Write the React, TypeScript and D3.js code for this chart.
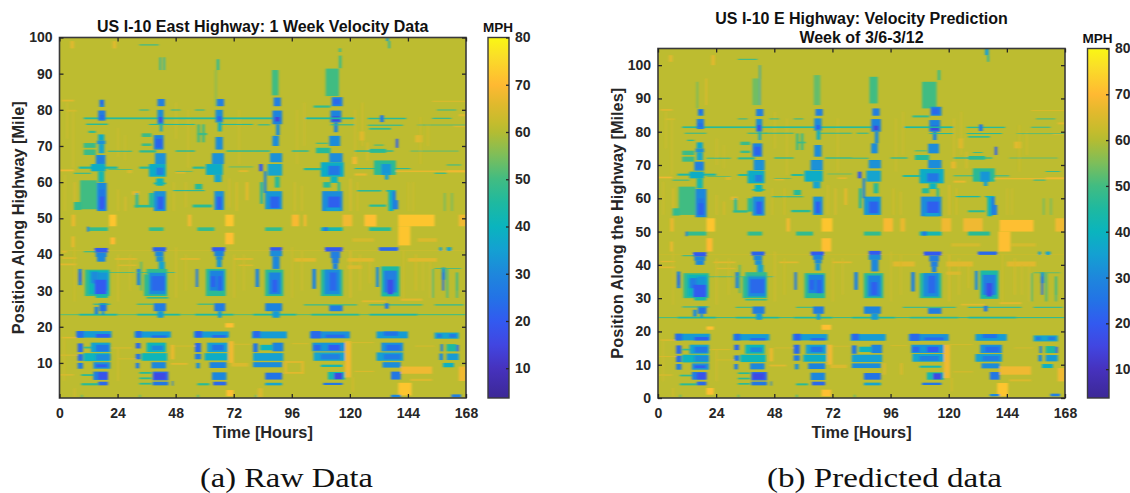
import { useEffect, useRef } from 'react';
import * as d3 from 'd3';

type Patch = [number, number, number, number, number];

// every patch: [hour start, hour end, mile low, mile high, mph]
const hourTicks = [0, 24, 48, 72, 96, 120, 144, 168];
const rawMileTicks = [10, 20, 30, 40, 50, 60, 70, 80, 90, 100];
const predMileTicks = [0, 10, 20, 30, 40, 50, 60, 70, 80, 90, 100];
const barTicks = [10, 20, 30, 40, 50, 60, 70, 80];
const freeFlow = 61;

const mphStops = [3.7, 10, 15, 20, 25, 30, 35, 40, 45, 50, 55, 60, 62, 66, 70, 76, 80];
const mphColors = ['#3c2896', '#4632be', '#4146e1', '#325af0', '#2373e6', '#1e87dc', '#14a0d2', '#0ab4be', '#1eb9a0', '#41bc82', '#7dbe5a', '#b4bc32', '#c5bc2d', '#e1b92d', '#ffb932', '#fade28', '#faf714'];

const rawStreaks: Patch[] = [
  [0, 6, 63, 63.5, 68], [1, 6, 82.3, 82.8, 66], [3, 7, 79.5, 80, 64], [4.5, 6, 97, 99, 66], [22, 23.5, 97, 99, 66],
  [5, 6.5, 47.8, 51, 67], [5, 6.2, 42, 45, 67], [1, 7, 38.8, 39.2, 66], [0, 7, 37, 37.5, 66], [1, 3, 40.5, 41, 66], [0, 168, 41, 41.2, 63],
  [23, 32, 38.5, 39, 66], [24, 32, 36.8, 37.2, 65], [50, 58, 38.5, 39, 66], [72, 80, 38.5, 39, 66], [74, 80, 36.8, 37.2, 65],
  [20.5, 23.5, 47.8, 51, 72], [21, 23, 42.8, 44.7, 70], [53, 54.5, 47.8, 51, 68], [68.5, 72, 47.8, 51, 72], [68.5, 72, 42.8, 46, 71], [68.5, 72, 19.8, 21, 71], [69, 72, 0.8, 2.5, 71],
  [96, 99, 47.8, 51, 69], [101, 102, 47.8, 51, 69], [117, 121, 47.8, 51, 68], [126, 131, 47.8, 51, 71], [140, 155, 47.8, 51, 72], [140, 145, 42.5, 47.8, 72], [121, 130, 43.5, 44.5, 64], [148, 156, 43.5, 44.5, 65],
  [118, 120.5, 6, 16, 68], [140, 145.5, 1, 4.5, 72], [141, 154, 7, 9, 68], [145, 154, 5, 5.6, 65], [93, 94, 7, 10.5, 66], [100, 101, 7, 10.5, 66], [93, 101, 7, 7.5, 66], [93, 101, 10, 10.5, 66], [70, 72, 10, 16, 68], [71, 78, 9, 10, 65], [46, 47.5, 11, 15, 67], [46, 53, 9.5, 10, 66],
  [125, 135, 26.8, 27.3, 66], [141, 150, 27.2, 27.8, 66], [119, 125, 36, 37, 65], [119, 130, 38, 39, 66], [144, 156, 38, 39, 66], [97, 106, 38, 39, 66], [121, 123, 65, 67, 68], [122, 127, 61.8, 62.4, 67], [137, 160, 62.8, 63.2, 67], [160, 168, 62.7, 63.3, 68],
  [124, 126, 71.5, 74, 66], [147, 150, 71, 73, 66], [154, 168, 82.2, 82.5, 65], [165, 168, 78.2, 78.8, 66], [163, 168, 75.2, 75.7, 65], [165, 168, 47.8, 51, 68], [165, 168, 5, 9, 68],
  [28, 30, 62.5, 63.5, 65], [48, 52, 62.4, 62.9, 66], [74, 78, 62.8, 63.3, 66], [77, 78, 55, 60, 67], [30, 33, 56.5, 57.5, 66], [82, 84, 0.5, 3, 65],
];

const rawTexture: Patch[] = [
  [3, 3.4, 72, 82, 64], [5.5, 5.9, 64, 80, 64], [24, 24.4, 67, 75, 64], [27, 27.4, 66, 73, 63], [48, 48.4, 72, 82, 64], [53, 53.4, 64, 80, 64], [74, 74.4, 65, 80, 64],
  [98, 98.4, 65, 80, 64], [101, 101.4, 70, 82, 64], [122, 122.4, 66, 80, 65], [125, 125.4, 70, 82, 65], [127, 127.6, 66, 71, 65], [149, 149.4, 65, 78, 64], [152, 152.5, 70, 76, 64],
  [2, 2.4, 52, 62, 64], [6, 6.5, 53, 60, 66], [24, 24.4, 52, 58, 65], [27, 27.5, 52, 56, 66], [47, 47.4, 52, 60, 64], [52, 52.4, 53, 60, 65], [70, 70.4, 53, 61, 65], [73, 73.5, 52, 60, 66],
  [97, 97.4, 52, 60, 65], [100, 100.4, 52, 59, 65], [120, 120.5, 52, 61, 66], [123, 123.4, 52, 60, 65], [144, 144.4, 52, 60, 64], [146, 146.4, 52, 60, 64], [159, 159.4, 52, 57, 50], [162, 162.4, 52, 57, 50],
  [6, 6.4, 27, 42, 64], [24, 24.4, 27, 40, 65], [29, 29.4, 30, 40, 64], [48, 48.4, 28, 42, 65], [52, 52.4, 30, 40, 64], [72, 72.4, 28, 40, 65], [76, 76.4, 30, 40, 64], [96, 96.4, 28, 42, 64], [100, 100.4, 30, 41, 64],
  [120, 120.5, 28, 41, 66], [124, 124.4, 30, 40, 65], [128, 128.4, 32, 38, 65], [142, 142.4, 28, 41, 64], [147, 147.5, 30, 40, 65], [150, 150.4, 30, 38, 64], [153, 153.4, 28, 38, 64], [154, 154.6, 28, 36, 50], [164, 164.6, 30, 35, 48],
  [1, 7, 16.8, 17.2, 66], [22, 30, 14, 14.3, 65], [24, 32, 11, 11.3, 64], [48, 56, 14.5, 14.8, 64], [72, 79, 15, 15.3, 64], [120, 130, 15.5, 15.8, 64], [147, 155, 14.5, 14.8, 64], [122, 130, 7.5, 7.8, 65], [0, 6, 6.5, 6.9, 65], [0, 8, 12, 12.3, 65], [96, 103, 15.2, 15.5, 64], [1.8, 2.2, 5, 17, 64], [24, 24.4, 5, 14, 65], [121, 121.5, 2, 6, 65], [6, 6.5, 0.4, 3, 65], [9, 9.4, 0.4, 1.2, 45], [33, 33.4, 0.4, 1.2, 45], [57, 57.5, 0.4, 1.2, 45], [81, 81.4, 0.4, 1.2, 45],
];

const rawDay1: Patch[] = [
  [16.5, 18.5, 80.8, 82.8, 29], [17, 18, 81.5, 82.5, 21], [16, 19, 77, 79.8, 27], [16.5, 18.5, 77.5, 78.5, 24], [11, 20, 75.8, 76.2, 47], [12, 15, 73.6, 74.2, 48],
  [16, 18.5, 71.5, 73.2, 38], [15.5, 19, 70.5, 71.5, 32], [16.2, 18.5, 68, 70.5, 36], [15, 19, 65, 67.5, 30], [15.8, 18.2, 65.5, 67, 27], [10, 15, 69.5, 70.8, 49], [10, 15, 67.5, 69, 49], [20, 30, 68.4, 68.7, 47],
  [8, 24, 63.7, 64.3, 44], [13, 19, 63, 65, 38], [16, 18.5, 60, 63, 42], [6, 13, 62.3, 62.6, 47], [8.5, 15.5, 52.5, 60.5, 50], [6, 9, 52.3, 54.5, 48],
  [15.5, 19.5, 52, 59.8, 30], [16.5, 18.8, 53, 58, 26], [16.5, 18.5, 52.5, 56, 20], [12, 20, 46.5, 47.5, 48], [11.4, 12.2, 46.3, 47.7, 27],
  [14.5, 20, 40.5, 41.8, 20], [15, 19.5, 39.3, 40.5, 30], [15.5, 19, 38, 39.3, 30], [10, 15, 40.6, 40.9, 47], [7.8, 9.2, 31.5, 36, 29], [8.3, 8.9, 32.5, 35, 19],
  [10.5, 20.7, 28.5, 35.8, 48], [12, 20.5, 29, 35.5, 41], [13, 16, 32, 35.2, 31], [16, 20, 30, 35, 33], [14.5, 19.5, 29, 33, 20], [15, 20, 28, 29, 44], [20, 31, 34.9, 35.1, 48],
  [16.5, 19.5, 24.3, 26.5, 25], [14.5, 16, 23.5, 25.5, 29], [17.5, 18.5, 23.3, 24.3, 32], [14, 21, 26.1, 26.4, 43],
  [7, 21.5, 17, 18.8, 34], [7, 10, 17, 18.8, 24], [15, 21, 17, 18, 21],
  [7.5, 9.7, 13, 15.4, 23], [7.5, 9.7, 10.6, 12.4, 24], [7.5, 9.7, 8.4, 10, 27], [10, 13, 14, 14.5, 48], [13, 21, 13, 15.6, 36], [15, 20.5, 13.2, 15, 26], [10, 21, 10.5, 12.7, 40], [15, 21, 10.8, 12.4, 31], [14, 21, 8.4, 10.2, 32], [15, 19.8, 8.8, 9.6, 21],
  [14, 20, 5.3, 7.6, 28], [16, 20, 5.4, 7.4, 18], [9, 14, 6.4, 6.9, 47], [16, 20, 3.8, 4.8, 23], [9, 16, 3.8, 4.4, 47],
];

const rawDay2: Patch[] = [
  [41.4, 42, 91, 94.5, 42], [43, 43.6, 91, 94.5, 42], [33, 41, 97.8, 98.1, 47],
  [40.5, 43.5, 81, 83, 28], [40.5, 43, 76, 80, 31], [41, 42.5, 76.5, 78, 17], [41.5, 42.5, 74, 76, 36], [39, 43, 69, 73, 29], [39.7, 42.5, 69.5, 72, 22], [39.5, 44, 65, 68, 32],
  [37, 44, 61.5, 65, 38], [40, 43, 62, 64, 28], [33, 37, 63.7, 64.3, 46], [40, 43, 59, 61, 40], [39, 44, 59.4, 59.9, 42],
  [39, 44, 52, 57.5, 32], [40.5, 43, 52.5, 56, 21], [37, 39, 53, 57, 46], [31.5, 32.5, 53, 57, 44], [31, 37, 53, 53.7, 47],
  [34, 38, 72.5, 73.5, 49], [34, 38, 70, 70.7, 49], [33, 40, 68.2, 68.8, 47], [37, 45, 75.8, 76.1, 46], [37, 43, 46.5, 47.5, 48],
  [38.5, 44, 40.8, 42, 22], [39.5, 43, 39.5, 40.8, 30], [40, 43, 38, 39.5, 32], [41, 43.5, 35, 38, 36], [36, 44.5, 34.5, 36, 48], [35, 44.5, 28.5, 34.5, 47], [37, 44, 29, 35, 31], [38, 43.5, 30, 34, 23],
  [33.5, 34, 30, 38, 47], [32, 33.3, 31.5, 36, 29], [32, 48, 34.9, 35.1, 46], [36, 45, 27.8, 28.2, 46], [39, 44, 24.3, 26.5, 27], [40.5, 43, 22.5, 24.3, 34], [32, 39, 26.1, 26.4, 47],
  [31, 46, 17, 18.7, 34], [31.5, 34, 17, 18.8, 24], [38, 44.5, 17, 17.6, 23], [31.5, 33.5, 14, 15.5, 23], [31.5, 33.5, 11, 12.5, 25], [31.5, 33, 8.5, 10, 27],
  [36, 44, 13, 15.6, 41], [38, 43, 13.5, 14.8, 30], [34, 44.5, 10.6, 12.7, 41], [38, 44, 8.5, 10.2, 30], [38.5, 45, 5.2, 7.6, 23], [39, 44, 5.4, 7.2, 16], [38.5, 45, 3.8, 4.8, 26], [46.5, 47, 3.7, 5, 28], [33, 38, 7, 7.5, 47], [33, 38, 5.5, 6, 47], [33, 38, 4, 4.5, 47],
];

const rawDay3: Patch[] = [
  [64.5, 64.8, 81, 91, 50], [65, 66, 91, 94, 46], [65, 68, 81, 83, 28], [64.5, 67.5, 76.5, 80, 31], [65.3, 67, 77, 78.2, 22], [65.5, 67, 74, 76.5, 38],
  [64.5, 67.5, 69, 72.5, 31], [63, 68, 65, 68, 32], [60.5, 67.5, 62, 65, 38], [55, 60, 63.7, 64.3, 46], [64, 67, 60, 62, 36], [64, 68, 52.3, 57.5, 32], [65, 67, 52.5, 56, 21],
  [55, 63, 53, 53.8, 47], [56, 59, 58, 59.5, 46], [47, 60, 57.5, 57.8, 45], [57, 58, 71, 76, 49], [59, 60, 71, 76, 49], [57, 61, 73, 73.6, 49], [57, 64, 46.5, 47.5, 48],
  [63, 68.5, 40.8, 42, 20], [64, 68, 39.5, 41, 29], [64.7, 67.5, 38.5, 39.5, 31], [65, 67, 36.5, 38.5, 33], [60.5, 68.7, 28.5, 36, 47], [62, 68, 30, 35.5, 29], [62.5, 64.5, 31, 34, 22], [65.5, 67, 30, 34, 22], [56.3, 57.3, 31, 36, 27],
  [64, 68.5, 24.3, 26.5, 27], [65.5, 67, 22.5, 24.3, 34], [57, 64, 26.1, 26.4, 47],
  [55.5, 70, 17, 18.7, 34], [56, 59, 17, 18.8, 22], [63, 69, 17, 17.7, 23], [56, 58.5, 13, 15.5, 23], [56, 58.5, 11, 12.5, 27], [56.5, 58, 8.5, 10, 31],
  [61, 69.5, 13, 15.6, 35], [63, 68, 13.5, 15, 25], [60, 69.5, 10.7, 12.7, 38], [62, 69, 8.6, 10.2, 29], [63, 69, 5.3, 7.4, 30], [63.5, 69, 3.8, 4.8, 23], [57, 62, 3.8, 4.4, 47],
];

const rawDay4: Patch[] = [
  [87.8, 90.5, 84, 91, 50], [88.5, 91.5, 81, 83.4, 28], [88, 92, 76, 79.8, 29], [89, 91, 76.8, 78, 14], [89.5, 91, 73, 76, 31], [88, 90.7, 70, 72.8, 31], [87, 92, 65.5, 68, 32], [86, 92, 61.8, 65, 36], [89, 91, 58.5, 61.5, 46],
  [85, 92, 52.5, 57.5, 33], [87, 91, 52.8, 56, 22], [82.5, 84, 63, 65, 20], [84.5, 85.5, 57, 63, 29], [83, 84, 54, 60, 42], [82, 87, 75.7, 76, 46], [80, 87, 68.4, 68.8, 47], [85, 92, 46.5, 47.5, 48],
  [87, 92, 41, 42, 20], [87, 92, 39.5, 41, 31], [88, 91, 36, 39.5, 30], [85, 92.5, 28.5, 35.8, 47], [86.5, 91.5, 29, 35, 29], [88, 90, 29.5, 33, 21], [81, 82.5, 31, 36, 29],
  [85, 92, 24.3, 26.5, 29], [88, 91, 22.5, 24.3, 34], [79.5, 94, 16.8, 18.7, 34], [80, 83, 17, 18.8, 23],
  [88, 92.5, 13.2, 15.6, 29], [80, 82, 13, 15.4, 26], [83, 88, 13.5, 15, 40], [80, 92.5, 10.6, 12.7, 35], [80, 92, 8.8, 10.2, 31], [85, 92, 5.4, 7.3, 25], [85, 92, 3.8, 4.5, 36],
];

const rawDay5: Patch[] = [
  [110, 115.5, 83.8, 91.4, 50], [115.5, 116.5, 91.5, 95, 48], [115.5, 116.3, 96, 97, 46], [112.5, 117, 81, 83.5, 29], [113, 116, 81.5, 83, 23], [105, 112, 80.6, 81.2, 48],
  [112, 116.5, 76.5, 79.8, 29], [112.5, 116, 76.8, 78.2, 15], [113.5, 115, 73.8, 76.5, 29], [101.5, 122, 77.4, 77.9, 45], [112, 122, 75.7, 76, 46], [111.5, 116, 70, 72.8, 31],
  [106, 112, 68, 69.5, 46], [96, 103, 68.4, 68.8, 47], [106, 111, 70.6, 70.9, 48], [111.5, 117, 65.5, 68, 31], [108, 117.5, 61.5, 65.5, 38], [111, 116, 62, 64.5, 26], [101, 108, 63.3, 63.9, 46],
  [112, 115, 59.8, 61.5, 40], [109, 112, 58.5, 60, 46], [115, 116, 57.5, 60, 46], [108.5, 117, 52, 57.5, 31], [111, 116, 52.5, 56, 21], [110, 116, 52, 53, 35], [108, 117, 46.5, 47.5, 42], [109, 111, 46.5, 47.5, 27],
  [109.7, 117, 40.8, 42, 20], [112, 116, 39, 40.8, 28], [112.6, 115.5, 37.5, 39, 28], [113, 115, 36, 37.5, 29], [108, 117, 28.5, 35.8, 47], [109.5, 116, 29, 35.8, 31], [111.5, 114.5, 30, 35, 23], [104.5, 106, 30.5, 36, 29],
  [111.5, 117, 24.3, 26, 27], [101, 123, 25.9, 26.2, 46], [103.5, 120, 16.8, 18.7, 32], [104, 108, 16.8, 18.8, 23], [110, 118, 17, 17.8, 23],
  [104.5, 118, 13.2, 15.6, 33], [111, 116, 13.5, 15, 20], [105, 108, 13.5, 15, 23], [105, 118, 10.6, 12.9, 36], [108, 116, 11, 12.4, 28], [108, 117, 8.9, 9.5, 42], [111, 118, 5.4, 7.5, 42], [113.5, 117, 5.5, 7.2, 15], [109, 117, 3.9, 4.5, 26],
];

const rawDay6And7: Patch[] = [
  [127.4, 143.3, 77.4, 77.8, 46], [132.5, 134, 76.6, 78.5, 26], [127.4, 142, 75.6, 75.9, 46], [128, 137, 74.5, 75, 48], [139, 140, 69.5, 72, 21], [122, 138, 68.4, 68.8, 47], [128, 135, 68.1, 69.2, 47], [130, 134, 70.1, 70.4, 49],
  [122, 145, 63.6, 63.9, 47], [130, 139, 62, 66, 47], [133, 137, 62, 65, 33], [134.5, 136, 60.7, 62.5, 35], [123, 133, 57.4, 57.8, 45], [135, 139, 57.4, 57.8, 40], [136, 138, 52, 57.5, 40], [137.5, 139, 52.5, 57.5, 28], [138.5, 140, 52.5, 55, 28], [128, 135, 53.2, 53.8, 47],
  [132, 140, 41, 42, 23], [130.8, 132, 31, 36.5, 31], [133, 140.5, 28.4, 36.7, 44], [134, 139.5, 29.5, 35.5, 28], [135.5, 138, 29, 33, 17], [128, 150, 25.9, 26.2, 45], [134.5, 136, 25, 26.5, 26], [128, 137, 46.5, 47.5, 47],
  [131, 144, 16.8, 18.7, 34], [134, 140, 17.5, 18.7, 25], [133, 142, 13.2, 15.6, 32], [135, 141, 13.5, 15, 24], [131, 142, 10.6, 12.9, 35], [134, 141, 11, 12.4, 27], [133.5, 141, 8.7, 10.2, 31], [137, 141, 5.4, 7.6, 26], [137, 141, 0.5, 1.2, 30],
  [158, 159.4, 33, 36.4, 33], [158.2, 159, 30, 35, 24], [155, 166, 36, 36.2, 47], [160, 160.6, 28, 36, 47], [164, 164.6, 28, 35, 47], [155, 167, 25.9, 26.2, 45], [157, 158, 41, 42, 35], [160, 162, 41, 42, 36], [155, 165, 16.7, 18.4, 36], [156, 158, 17, 18, 27], [161, 164, 17, 18, 27],
  [157.5, 158.5, 13.2, 15.2, 29], [160, 164, 13.2, 15.2, 45], [164, 165, 13.2, 15, 23], [157, 158.5, 10.8, 12.6, 31], [160, 165, 10.8, 12.6, 34], [158.5, 163, 8.8, 10, 39], [162, 166, 0.5, 1.3, 28],
  [154, 162, 77.5, 77.8, 47], [148, 168, 75.7, 75.9, 48], [145, 165, 68.5, 68.7, 48], [156, 164, 79.8, 80.1, 49], [155, 160, 62.3, 62.6, 47], [160, 166, 64.6, 64.9, 49],
  [135, 136, 99, 100, 35], [136, 136.6, 97, 99, 40],
];

const rawLines: Patch[] = [
  [10, 88, 77.4, 77.9, 46], [48, 56, 68.4, 68.8, 47], [69, 80, 68.4, 68.8, 47], [44, 56, 75.8, 76.1, 47], [66, 80, 75.8, 76.1, 47], [46, 50, 79.8, 80.1, 48], [33, 37, 79.8, 80.1, 47], [56, 60, 79.8, 80.1, 47],
  [0, 8, 23.2, 23.5, 52], [8, 24, 23.1, 23.6, 44], [24, 32, 23.2, 23.5, 52], [32, 50, 23.1, 23.6, 45], [50, 56, 23.2, 23.5, 52], [56, 72, 23.1, 23.6, 45], [72, 80, 23.2, 23.5, 52], [80, 98, 23.1, 23.6, 45], [98, 104, 23.2, 23.5, 52], [104, 124, 23.1, 23.6, 46], [124, 128, 23.2, 23.5, 52], [128, 148, 23.1, 23.6, 44], [148, 168, 23.2, 23.5, 50],
  [70, 80, 64.1, 64.3, 49], [20, 30, 63.4, 63.6, 49], [48, 55, 62.9, 63.1, 49],
];

const predStreaks: Patch[] = [
  [0, 6, 66, 66.5, 68], [1, 6, 86.3, 86.8, 66], [3, 7, 83.5, 84, 64], [4.5, 6, 101, 103, 66], [22, 23.5, 100, 103, 66],
  [5, 6.5, 50, 54, 67], [5, 6.2, 44, 47, 67], [1, 7, 40.8, 41.2, 66], [0, 7, 39, 39.5, 66], [0, 168, 43, 43.2, 63],
  [23, 32, 40.5, 41, 66], [24, 32, 38.7, 39.1, 65], [50, 58, 40.5, 41, 66], [72, 80, 40.5, 41, 66],
  [19.7, 20.2, 88, 96, 67], [20, 23.5, 50, 54, 72], [20, 22.5, 44, 48, 70], [53, 54.5, 50, 54, 68], [67.5, 72, 50, 54, 72], [67.5, 71.5, 44, 48, 71], [20, 23, 20.5, 21.5, 71], [67.5, 71.5, 20.5, 22, 71], [20, 23, 1, 3, 71], [67.5, 71.5, 0.5, 2.5, 71],
  [93, 97, 50, 54, 69], [100, 102, 50, 54, 67], [117, 121, 50, 54, 68], [126, 134, 50, 54, 68], [141, 155, 50, 53.5, 71], [140.5, 145.5, 44, 50, 71], [121, 133, 45.5, 46.5, 64], [146, 156, 45.5, 46.5, 64], [164, 168, 50, 54, 68],
  [118, 120.5, 6, 16, 68], [140, 144.5, 0.5, 4.5, 72], [141, 154, 7, 9.5, 68], [145, 154, 5, 5.6, 65], [93, 94, 7, 10.5, 65], [100, 101, 7, 10.5, 65], [70, 72, 10, 16, 68], [71, 78, 9, 10, 65], [46, 47.5, 11, 15, 67], [46, 53, 9.5, 10, 66],
  [125, 135, 27.8, 28.3, 66], [141, 150, 28.2, 28.8, 66], [119, 125, 37, 38, 65], [119, 130, 39.5, 41, 66], [144, 156, 39.5, 41, 66], [97, 106, 39.5, 41, 66], [121, 123, 69, 71, 67], [122, 127, 64.7, 65.3, 67], [137, 160, 65.7, 66.1, 67], [160, 168, 65.7, 66.3, 68],
  [124, 126, 75, 78, 66], [147, 150, 75, 77, 66], [154, 168, 86.2, 86.5, 65], [165, 168, 82.2, 82.8, 66], [163, 168, 79, 79.5, 65], [165, 168, 5, 9, 68],
  [28, 30, 65.5, 66.5, 65], [48, 52, 65.4, 65.9, 66], [74, 78, 65.8, 66.3, 66], [77, 78, 58, 63, 67], [30, 33, 59.5, 60.5, 66],
];

const predTexture: Patch[] = [
  [3, 3.4, 75, 86, 64], [5.5, 5.9, 67, 84, 64], [24, 24.4, 70, 78, 64], [27, 27.4, 69, 76, 63], [48, 48.4, 75, 86, 64], [53, 53.4, 67, 84, 64], [74, 74.4, 68, 84, 64],
  [98, 98.4, 68, 84, 64], [101, 101.4, 73, 86, 64], [122, 122.4, 69, 84, 65], [125, 125.4, 73, 86, 64], [127, 127.6, 69, 74, 65], [149, 149.4, 68, 82, 64], [152, 152.5, 73, 80, 64],
  [2, 2.4, 55, 65, 64], [6, 6.5, 55, 63, 66], [24, 24.4, 55, 61, 65], [27, 27.5, 55, 59, 66], [47, 47.4, 55, 63, 64], [52, 52.4, 55, 63, 65], [70, 70.4, 55, 64, 65], [73, 73.5, 55, 63, 66],
  [97, 97.4, 55, 63, 65], [100, 100.4, 55, 62, 65], [120, 120.5, 55, 64, 66], [123, 123.4, 55, 63, 65], [144, 144.4, 55, 63, 64], [146, 146.4, 55, 63, 64], [159, 159.4, 55, 60, 50], [162, 162.4, 55, 60, 50],
  [6, 6.4, 28, 44, 64], [24, 24.4, 28, 42, 65], [29, 29.4, 31, 42, 64], [48, 48.4, 29, 44, 65], [52, 52.4, 31, 42, 64], [72, 72.4, 29, 42, 65], [76, 76.4, 31, 42, 64], [96, 96.4, 29, 44, 64], [100, 100.4, 31, 43, 64],
  [120, 120.5, 29, 43, 66], [124, 124.4, 31, 42, 65], [128, 128.4, 33, 40, 65], [142, 142.4, 29, 43, 64], [147, 147.5, 31, 42, 65], [150, 150.4, 31, 40, 64], [153, 153.4, 29, 40, 64], [154, 154.6, 29, 37.5, 50], [164, 164.6, 31, 36.5, 48],
  [1, 7, 17.2, 17.6, 66], [22, 30, 14.4, 14.7, 65], [24, 32, 11.3, 11.6, 64], [48, 56, 14.9, 15.2, 64], [72, 79, 15.4, 15.7, 64], [120, 130, 15.9, 16.2, 64], [147, 155, 14.9, 15.2, 64], [122, 130, 7.7, 8, 65], [0, 6, 6.7, 7.1, 65], [0, 8, 12.3, 12.6, 65], [96, 103, 15.6, 15.9, 64], [1.8, 2.2, 5, 17.5, 64], [24, 24.4, 5, 14.4, 65], [121, 121.5, 2, 6, 65], [6, 6.5, 0.4, 3, 65], [9, 9.4, 0.2, 1, 45], [33, 33.4, 0.2, 1, 45], [57, 57.5, 0.2, 1, 45], [81, 81.4, 0.2, 1, 45],
];

const predDay1: Patch[] = [
  [16, 16.5, 87, 95, 52], [16.5, 18.8, 84.8, 86.8, 29], [17, 18, 85.5, 86.5, 22], [16, 19, 80.8, 83.8, 28], [16.5, 18.5, 81.5, 82.5, 24], [11, 20, 79.4, 79.7, 47], [12, 15, 77.2, 77.6, 48],
  [16, 18.5, 75, 76.8, 37], [15.5, 19, 73.8, 75, 32], [16, 18.5, 71.5, 73.8, 36], [15, 19, 68.3, 71, 30], [15.8, 18.2, 69, 70.5, 27], [10, 15, 73, 74.3, 49], [10, 15, 71, 72.5, 49], [20, 30, 71.9, 72.2, 47],
  [8, 24, 66.8, 67.4, 44], [13, 19, 66, 68, 38], [16, 18.5, 63, 66, 42], [6, 13, 65.3, 65.6, 47], [8.5, 15.5, 55, 63.5, 50], [6, 9, 54.8, 57, 48],
  [15.5, 20, 54.3, 62.8, 30], [16.5, 19, 55, 60, 26], [16.5, 19, 55, 58.5, 22], [12, 20, 48.8, 50, 48], [11.4, 12.2, 48.6, 50, 27],
  [14.5, 20, 42.5, 43.8, 20], [15, 19.5, 41.2, 42.5, 30], [15.5, 19, 40, 41.2, 30], [10, 15, 42.6, 42.9, 47], [7.8, 9.2, 33, 38, 29], [8.3, 8.9, 34, 37, 19],
  [10.5, 21, 30, 37.5, 48], [12, 20.5, 30.5, 37, 41], [13, 16, 33, 36, 27], [16, 20, 31, 36.5, 33], [14.5, 20, 30.3, 34, 20], [15, 20, 29.3, 30.3, 44], [20, 31, 36.3, 36.5, 48],
  [16.5, 20, 25.3, 27.5, 25], [14.5, 16, 24.5, 26.5, 31], [17.5, 18.5, 24.2, 25.3, 32], [10, 21, 27.2, 27.5, 43],
  [7, 21.5, 17.3, 19.3, 34], [7, 10, 17.3, 19.3, 24], [15, 21, 17.3, 18.3, 21],
  [7.5, 9.7, 13.3, 15.8, 23], [7.5, 9.7, 10.8, 12.7, 24], [7.5, 9.7, 8.5, 10.2, 27], [10, 13, 14.3, 14.8, 48], [13, 21, 13.3, 16, 36], [15, 20.5, 13.6, 15.4, 26], [10, 21, 10.7, 13, 40], [15, 21, 11, 12.7, 31], [14, 21, 8.5, 10.4, 32], [15, 19.8, 9, 9.8, 21],
  [14, 20, 5.5, 7.8, 28], [16, 20, 5.6, 7.6, 18], [9, 14, 6.5, 7, 47], [16, 20, 3.8, 4.9, 23], [9, 16, 3.8, 4.4, 47],
];

const predDay2: Patch[] = [
  [41.8, 42.3, 88, 100, 36], [39, 41.8, 88, 96, 54], [33, 41, 101.6, 101.9, 47],
  [40.5, 43.5, 84.7, 86.8, 28], [40.5, 43, 80, 83.8, 31], [41, 42.5, 80.3, 82, 17], [41.5, 42.5, 77.5, 80, 36], [39, 43, 72.5, 76.5, 29], [39.7, 42.5, 73, 75.5, 22], [39.5, 44, 68.5, 71.5, 32],
  [37, 44, 64.5, 68.3, 38], [40, 43, 65, 67, 28], [33, 37, 66.7, 67.3, 46], [40, 43, 62, 64, 40], [39, 44, 62.3, 62.8, 42],
  [39, 44, 54.8, 60.5, 32], [40.5, 43, 55.3, 59, 21], [37, 39, 56, 60, 46], [31.5, 32.5, 56, 60, 44], [31, 37, 55.7, 56.4, 47],
  [34, 38, 76, 77, 49], [34, 38, 73.6, 74.3, 49], [33, 40, 71.7, 72.3, 47], [37, 45, 79.4, 79.7, 46], [37, 43, 48.8, 50, 48],
  [38.5, 44, 42.8, 44, 22], [39.5, 43, 41.4, 42.8, 30], [40, 43, 40, 41.4, 32], [41, 43.5, 37, 40, 36], [36, 45, 36.5, 37.8, 48], [35, 45, 30, 36.5, 47], [37, 44.5, 30.5, 36.7, 31], [38, 44, 31.5, 35.7, 23],
  [33.5, 34, 31.5, 40, 47], [32, 33.3, 33, 37.8, 29], [32, 48, 36.3, 36.5, 46], [36, 45, 29.3, 29.7, 46], [39, 44, 25.3, 27.5, 27], [40.5, 43, 23.5, 25.3, 34], [32, 39, 27.1, 27.4, 47],
  [31, 46, 17.3, 19.2, 34], [31.5, 34, 17.3, 19.3, 24], [38, 44.5, 17.3, 18, 23], [31.5, 33.5, 14.4, 16, 23], [31.5, 33.5, 11.2, 12.8, 25], [31.5, 33, 8.6, 10.2, 27],
  [36, 44, 13.3, 16, 41], [38, 43, 13.8, 15.2, 30], [34, 44.5, 10.8, 13, 41], [38, 44, 8.6, 10.4, 30], [38.5, 45, 5.3, 7.8, 23], [39, 44, 5.6, 7.4, 16], [38.5, 45, 3.8, 4.9, 26], [46.5, 47, 3.7, 5, 28], [33, 38, 7.2, 7.7, 47], [33, 38, 5.6, 6.1, 47], [33, 38, 4, 4.5, 47],
];

const predDay3: Patch[] = [
  [64.3, 67, 88, 97, 53], [65, 68, 84.8, 86.8, 28], [64.5, 67.5, 80.3, 84, 31], [65.3, 67, 80.8, 82, 22], [65.5, 67, 77.6, 80.3, 38],
  [64.5, 67.5, 72.5, 76, 31], [63, 68, 68.5, 71.5, 32], [60.5, 68, 65, 68.3, 38], [55, 60, 66.7, 67.3, 46], [64, 67, 63, 65, 36], [64, 68, 55, 60.5, 32], [65, 67, 55.5, 59, 21],
  [55, 63, 55.8, 56.5, 47], [56, 59, 61, 62.5, 46], [47, 60, 60.3, 60.6, 45], [57, 58, 74.5, 79.5, 49], [59, 60, 74.5, 79.5, 49], [57, 61, 76.5, 77, 49], [57, 64, 48.8, 50, 48],
  [63, 68.5, 42.8, 44, 20], [64, 68, 41.5, 43, 29], [64.7, 67.5, 40.4, 41.5, 31], [65, 67, 38.3, 40.4, 33], [60.5, 69, 30, 37.5, 47], [62, 68.5, 31.5, 37, 29], [62.5, 64.5, 32.5, 35.5, 22], [65.5, 67.5, 31.5, 35.5, 22], [56.3, 57.3, 32.5, 37.8, 27],
  [64, 68.5, 25.3, 27.5, 27], [65.5, 67, 23.5, 25.3, 34], [57, 64, 27.1, 27.4, 47],
  [55.5, 70, 17.3, 19.2, 34], [56, 59, 17.3, 19.3, 22], [63, 69, 17.3, 18, 23], [56, 58.5, 13.3, 16, 23], [56, 58.5, 11.2, 12.8, 27], [56.5, 58, 8.6, 10.2, 31],
  [61, 69.5, 13.3, 16, 35], [63, 68, 13.8, 15.4, 25], [60, 69.5, 10.9, 13, 38], [62, 69, 8.7, 10.4, 29], [63, 69, 5.4, 7.6, 30], [63.5, 69, 3.8, 4.9, 23], [57, 62, 3.8, 4.4, 47],
];

const predDay4: Patch[] = [
  [87.3, 90.7, 88.5, 96.5, 50], [88.5, 91.5, 84.8, 87, 28], [88, 92, 80, 83.8, 29], [89, 91, 80.5, 81.8, 14], [89.5, 91, 76.5, 80, 31], [88, 90.7, 73.5, 76.5, 31], [87, 92, 69, 71.5, 32], [86, 92, 65, 68.3, 36], [89, 91, 61.5, 64.5, 46],
  [85, 92, 55, 60.5, 33], [87, 91, 55.5, 59, 22], [82.5, 84, 66, 68, 20], [84.5, 85.5, 60, 66, 29], [83, 84, 57, 63, 42], [82, 87, 79.4, 79.7, 46], [80, 87, 71.9, 72.2, 47], [85, 92, 48.8, 50, 48],
  [87, 92, 43, 44.2, 20], [87, 92, 41.5, 43, 31], [88, 91, 38, 41.5, 30], [85, 93, 30, 37.5, 47], [86.5, 92, 30.5, 36.8, 29], [88, 90.5, 31, 34.8, 21], [81, 82.5, 32.5, 37.8, 29],
  [85, 92, 25.3, 27.5, 29], [88, 91, 23.5, 25.3, 34], [79.5, 94, 17.2, 19.2, 34], [80, 83, 17.4, 19.3, 23],
  [88, 92.5, 13.5, 16, 29], [80, 82, 13.3, 15.8, 26], [83, 88, 13.8, 15.4, 40], [80, 92.5, 10.8, 13, 35], [80, 92, 9, 10.4, 31], [85, 92, 5.5, 7.5, 25], [85, 92, 3.8, 4.6, 36],
];

const predDay5: Patch[] = [
  [109, 115, 87, 95, 50], [115.5, 116.5, 95.5, 98.5, 48], [112.5, 117, 84.8, 87.5, 29], [113, 116, 85.3, 87, 23], [105, 112, 84.3, 84.9, 48],
  [112, 116.5, 80, 83.5, 29], [112.5, 116, 80.4, 81.8, 15], [113.5, 115, 77.5, 80, 29], [101.5, 122, 81.1, 81.6, 45], [112, 122, 79.3, 79.6, 46], [111.5, 116, 73.5, 76.4, 31],
  [106, 112, 71.5, 73, 46], [96, 103, 71.9, 72.3, 47], [106, 111, 74.1, 74.4, 48], [111.5, 117, 69, 71.5, 31], [108, 118, 64.5, 68.8, 38], [111, 116, 65, 67.5, 26], [101, 108, 66.4, 67, 46],
  [112, 115, 62.8, 64.5, 40], [109, 112, 61.5, 63, 46], [115, 116, 60.5, 63, 46], [108.5, 117, 54.6, 60.5, 31], [111, 116, 55, 59, 21], [110, 116, 54.6, 55.6, 35], [108, 117, 48.8, 50, 42], [109, 111, 48.8, 50, 27],
  [109.7, 117, 42.8, 44, 20], [112, 116, 41, 42.8, 28], [112.6, 115.5, 39.4, 41, 28], [113, 115, 37.8, 39.4, 29], [108, 117, 30, 37.5, 47], [109.5, 116, 30.5, 37.5, 31], [111.5, 114.5, 31.5, 36.7, 23], [104.5, 106, 32, 37.8, 29],
  [111.5, 117, 25.3, 27, 27], [101, 123, 27.1, 27.4, 46], [103.5, 120, 17.2, 19.2, 32], [104, 108, 17.2, 19.3, 23], [110, 118, 17.4, 18.2, 23],
  [104.5, 118, 13.5, 16, 33], [111, 116, 13.8, 15.4, 20], [105, 108, 13.8, 15.4, 23], [105, 118, 10.9, 13.2, 36], [108, 116, 11.2, 12.6, 28], [108, 117, 9.1, 9.7, 42], [111, 118, 5.5, 7.7, 42], [113.5, 117, 5.6, 7.4, 15], [109, 117, 3.9, 4.6, 26],
];

const predDay6And7: Patch[] = [
  [127.4, 143.3, 81.1, 81.5, 46], [132.5, 134, 80.2, 82.2, 26], [127.4, 142, 79.3, 79.6, 46], [128, 137, 78.2, 78.7, 48], [139, 140, 73, 75.5, 21], [122, 138, 71.9, 72.3, 47], [128, 135, 71.6, 72.7, 47], [130, 134, 73.6, 73.9, 49],
  [122, 145, 66.6, 66.9, 47], [130, 139, 65, 69, 47], [133, 137, 65, 68, 33], [134.5, 136, 63.7, 65.5, 35], [123, 133, 60.3, 60.7, 45], [135, 139, 60.3, 60.7, 40], [136, 138, 54.6, 60.4, 40], [137.5, 139, 55, 60.4, 28], [138.5, 140, 55, 58, 28], [128, 135, 55.8, 56.4, 47],
  [132, 140, 43, 44, 23], [130.8, 132, 32.5, 38.2, 31], [133, 140.5, 29.8, 38.3, 44], [134, 139.5, 31, 37, 28], [135.5, 138, 30.5, 34.5, 17], [128, 150, 27.1, 27.4, 45], [134.5, 136, 26, 27.7, 26], [128, 137, 48.8, 50, 47],
  [131, 144, 17.2, 19.2, 34], [134, 140, 18, 19.2, 25], [133, 142, 13.5, 16, 32], [135, 141, 13.8, 15.4, 24], [131, 142, 10.9, 13.2, 35], [134, 141, 11.2, 12.6, 27], [133.5, 141, 8.9, 10.4, 31], [137, 141, 5.5, 7.8, 26], [137, 141, 0.5, 1.2, 30],
  [158, 159.4, 34.5, 37.8, 33], [158.2, 159, 31, 36.5, 24], [155, 166, 37.5, 37.7, 47], [160, 160.6, 29, 37.5, 47], [164, 164.6, 29, 36.5, 47], [155, 167, 27.1, 27.4, 45], [157, 158, 43, 44, 35], [160, 162, 43, 44, 36], [155, 165, 17, 18.8, 36], [156, 158, 17.4, 18.4, 27], [161, 164, 17.4, 18.4, 27],
  [157.5, 158.5, 13.5, 15.6, 29], [160, 164, 13.5, 15.6, 45], [164, 165, 13.5, 15.4, 23], [157, 158.5, 11, 12.9, 31], [160, 165, 11, 12.9, 34], [158.5, 163, 9, 10.2, 39], [162, 166, 0.5, 1.3, 28],
  [154, 162, 81.2, 81.5, 47], [148, 168, 79.3, 79.5, 48], [145, 165, 72, 72.2, 48], [156, 164, 83.7, 84, 49], [155, 160, 65.3, 65.6, 47], [160, 166, 67.9, 68.2, 49],
  [135, 136.5, 103, 105, 35], [136, 136.6, 101, 103, 40],
];

const predLines: Patch[] = [
  [10, 88, 81.1, 81.6, 46], [48, 56, 71.9, 72.3, 47], [69, 80, 71.9, 72.3, 47], [44, 56, 79.4, 79.7, 47], [66, 80, 79.4, 79.7, 47], [46, 50, 83.7, 84, 48], [33, 37, 83.7, 84, 47], [56, 60, 83.7, 84, 47],
  [0, 8, 24, 24.3, 50], [8, 24, 23.9, 24.4, 44], [24, 32, 24, 24.3, 48], [32, 50, 23.9, 24.4, 45], [50, 56, 24, 24.3, 48], [56, 72, 23.9, 24.4, 45], [72, 80, 24, 24.3, 48], [80, 98, 23.9, 24.4, 45], [98, 104, 24, 24.3, 48], [104, 124, 23.9, 24.4, 46], [124, 128, 24, 24.3, 48], [128, 148, 23.9, 24.4, 44], [148, 168, 24, 24.3, 46],
  [70, 80, 67.2, 67.4, 49], [20, 30, 66.5, 66.7, 49], [48, 55, 65.9, 66.1, 49],
];

const color = d3.scaleLinear<string>().domain(mphStops).range(mphColors).clamp(true);

const rawPatches = [...rawStreaks, ...rawTexture, ...rawLines, ...rawDay1, ...rawDay2, ...rawDay3, ...rawDay4, ...rawDay5, ...rawDay6And7];
const predPatches = [...predStreaks, ...predTexture, ...predLines, ...predDay1, ...predDay2, ...predDay3, ...predDay4, ...predDay5, ...predDay6And7];

const font = '"Liberation Sans", Arial, sans-serif';
const ink = '#262626';

const Heatmap = ({ id, left, right, top, bottom, miles, mileTicks, patches, barLeft, barRight, title, yLabel, caption, capX, capWidth }) => {
  const ref = useRef<SVGGElement>(null);
  const x = d3.scaleLinear().domain([0, 168]).range([left, right]);
  const y = d3.scaleLinear().domain(miles).range([bottom, top]);
  const bar = d3.scaleLinear().domain([3.7, 80]).range([bottom, top]);

  useEffect(() => {
    const g = d3.select(ref.current);
    g.selectAll('*').remove();
    const style = (sel) => {
      sel.selectAll('text').attr('font-family', font).attr('font-weight', 700).attr('font-size', 14).attr('fill', ink);
      sel.selectAll('line').attr('stroke', ink).attr('stroke-width', 1.3);
      sel.select('.domain').remove();
    };
    g.append('g').attr('transform', `translate(0,${bottom})`)
      .call(d3.axisBottom(x).tickValues(hourTicks).tickSize(-4).tickPadding(10)).call(style);
    g.append('g').attr('transform', `translate(0,${top})`)
      .call(d3.axisTop(x).tickValues(hourTicks).tickSize(-4).tickFormat(() => '')).call(style);
    g.append('g').attr('transform', `translate(${left},0)`)
      .call(d3.axisLeft(y).tickValues(mileTicks).tickSize(-4).tickPadding(7)).call(style);
    g.append('g').attr('transform', `translate(${right},0)`)
      .call(d3.axisRight(y).tickValues(mileTicks).tickSize(-4).tickFormat(() => '')).call(style);
    g.append('g').attr('transform', `translate(${barRight},0)`)
      .call(d3.axisRight(bar).tickValues(barTicks).tickSize(-3).tickPadding(6)).call(style);
  }, []);

  const px = (p: Patch) => ({
    x: x(p[0]),
    y: y(p[3]),
    width: x(p[1]) - x(p[0]),
    height: y(p[2]) - y(p[3]),
    fill: color(p[4]),
  });

  return (
    <g>
      <defs>
        <clipPath id={`clip-${id}`}>
          <rect x={left} y={top} width={right - left} height={bottom - top} />
        </clipPath>
        <filter id={`soft-${id}`} x="-5%" y="-5%" width="110%" height="110%">
          <feGaussianBlur stdDeviation="1.1 0.7" />
        </filter>
        <linearGradient id={`bar-${id}`} x1="0" y1="1" x2="0" y2="0">
          {mphStops.map((s, i) => (
            <stop key={s} offset={(s - 3.7) / (80 - 3.7)} stopColor={mphColors[i]} />
          ))}
        </linearGradient>
      </defs>
      <g clipPath={`url(#clip-${id})`}>
        <rect x={left} y={top} width={right - left} height={bottom - top} fill={color(freeFlow)} />
        <g filter={`url(#soft-${id})`}>
          {patches.map((p, i) => (
            <rect key={i} {...px(p)} />
          ))}
        </g>
      </g>
      <rect x={left} y={top} width={right - left} height={bottom - top} fill="none" stroke="#3a3a3a" strokeWidth="1.6" />
      <rect x={barLeft} y={top} width={barRight - barLeft} height={bottom - top} fill={`url(#bar-${id})`} stroke="#3a3a3a" strokeWidth="1.4" />
      <g ref={ref} />
      {title.map((t, i) => (
        <text key={t} x={(left + right) / 2} y={top - 6 - (title.length - 1 - i) * 19} textAnchor="middle" fontFamily={font} fontWeight="700" fontSize="16" fill="#111">{t}</text>
      ))}
      <text x={barLeft + 10} y={top - 6} textAnchor="middle" fontFamily={font} fontWeight="700" fontSize="13.5" fill="#111">MPH</text>
      <text x={(left + right) / 2} y={438} textAnchor="middle" fontFamily={font} fontWeight="700" fontSize="16.3" fill={ink}>Time [Hours]</text>
      <text transform={`translate(${left - 35.5},${(top + bottom) / 2}) rotate(-90)`} textAnchor="middle" fontFamily={font} fontWeight="700" fontSize="16.3" fill={ink}>{yLabel}</text>
      <text x={capX} y={487} textAnchor="middle" textLength={capWidth} lengthAdjust="spacingAndGlyphs" fontFamily='"Liberation Serif", serif' fontSize="27" fill="#111">{caption}</text>
    </g>
  );
};

export default function App() {
  return (
    <svg width={1130} height={493} style={{ position: 'absolute', left: 0, top: 0, background: 'white' }}>
      <Heatmap id="raw" left={59.5} right={466} top={37.5} bottom={398} miles={[0.3, 100]} mileTicks={rawMileTicks} patches={rawPatches}
        barLeft={488} barRight={509} title={['US I-10 East Highway: 1 Week Velocity Data']} yLabel="Position Along Highway [Mile]" caption="(a) Raw Data" capX={286.5} capWidth={173} />
      <Heatmap id="pred" left={658} right={1065} top={48.5} bottom={398} miles={[0, 105]} mileTicks={predMileTicks} patches={predPatches}
        barLeft={1087.5} barRight={1109} title={['US I-10 E Highway: Velocity Prediction', 'Week of 3/6-3/12']} yLabel="Position Along the Highway [Miles]" caption="(b) Predicted data" capX={884.5} capWidth={235} />
    </svg>
  );
}
